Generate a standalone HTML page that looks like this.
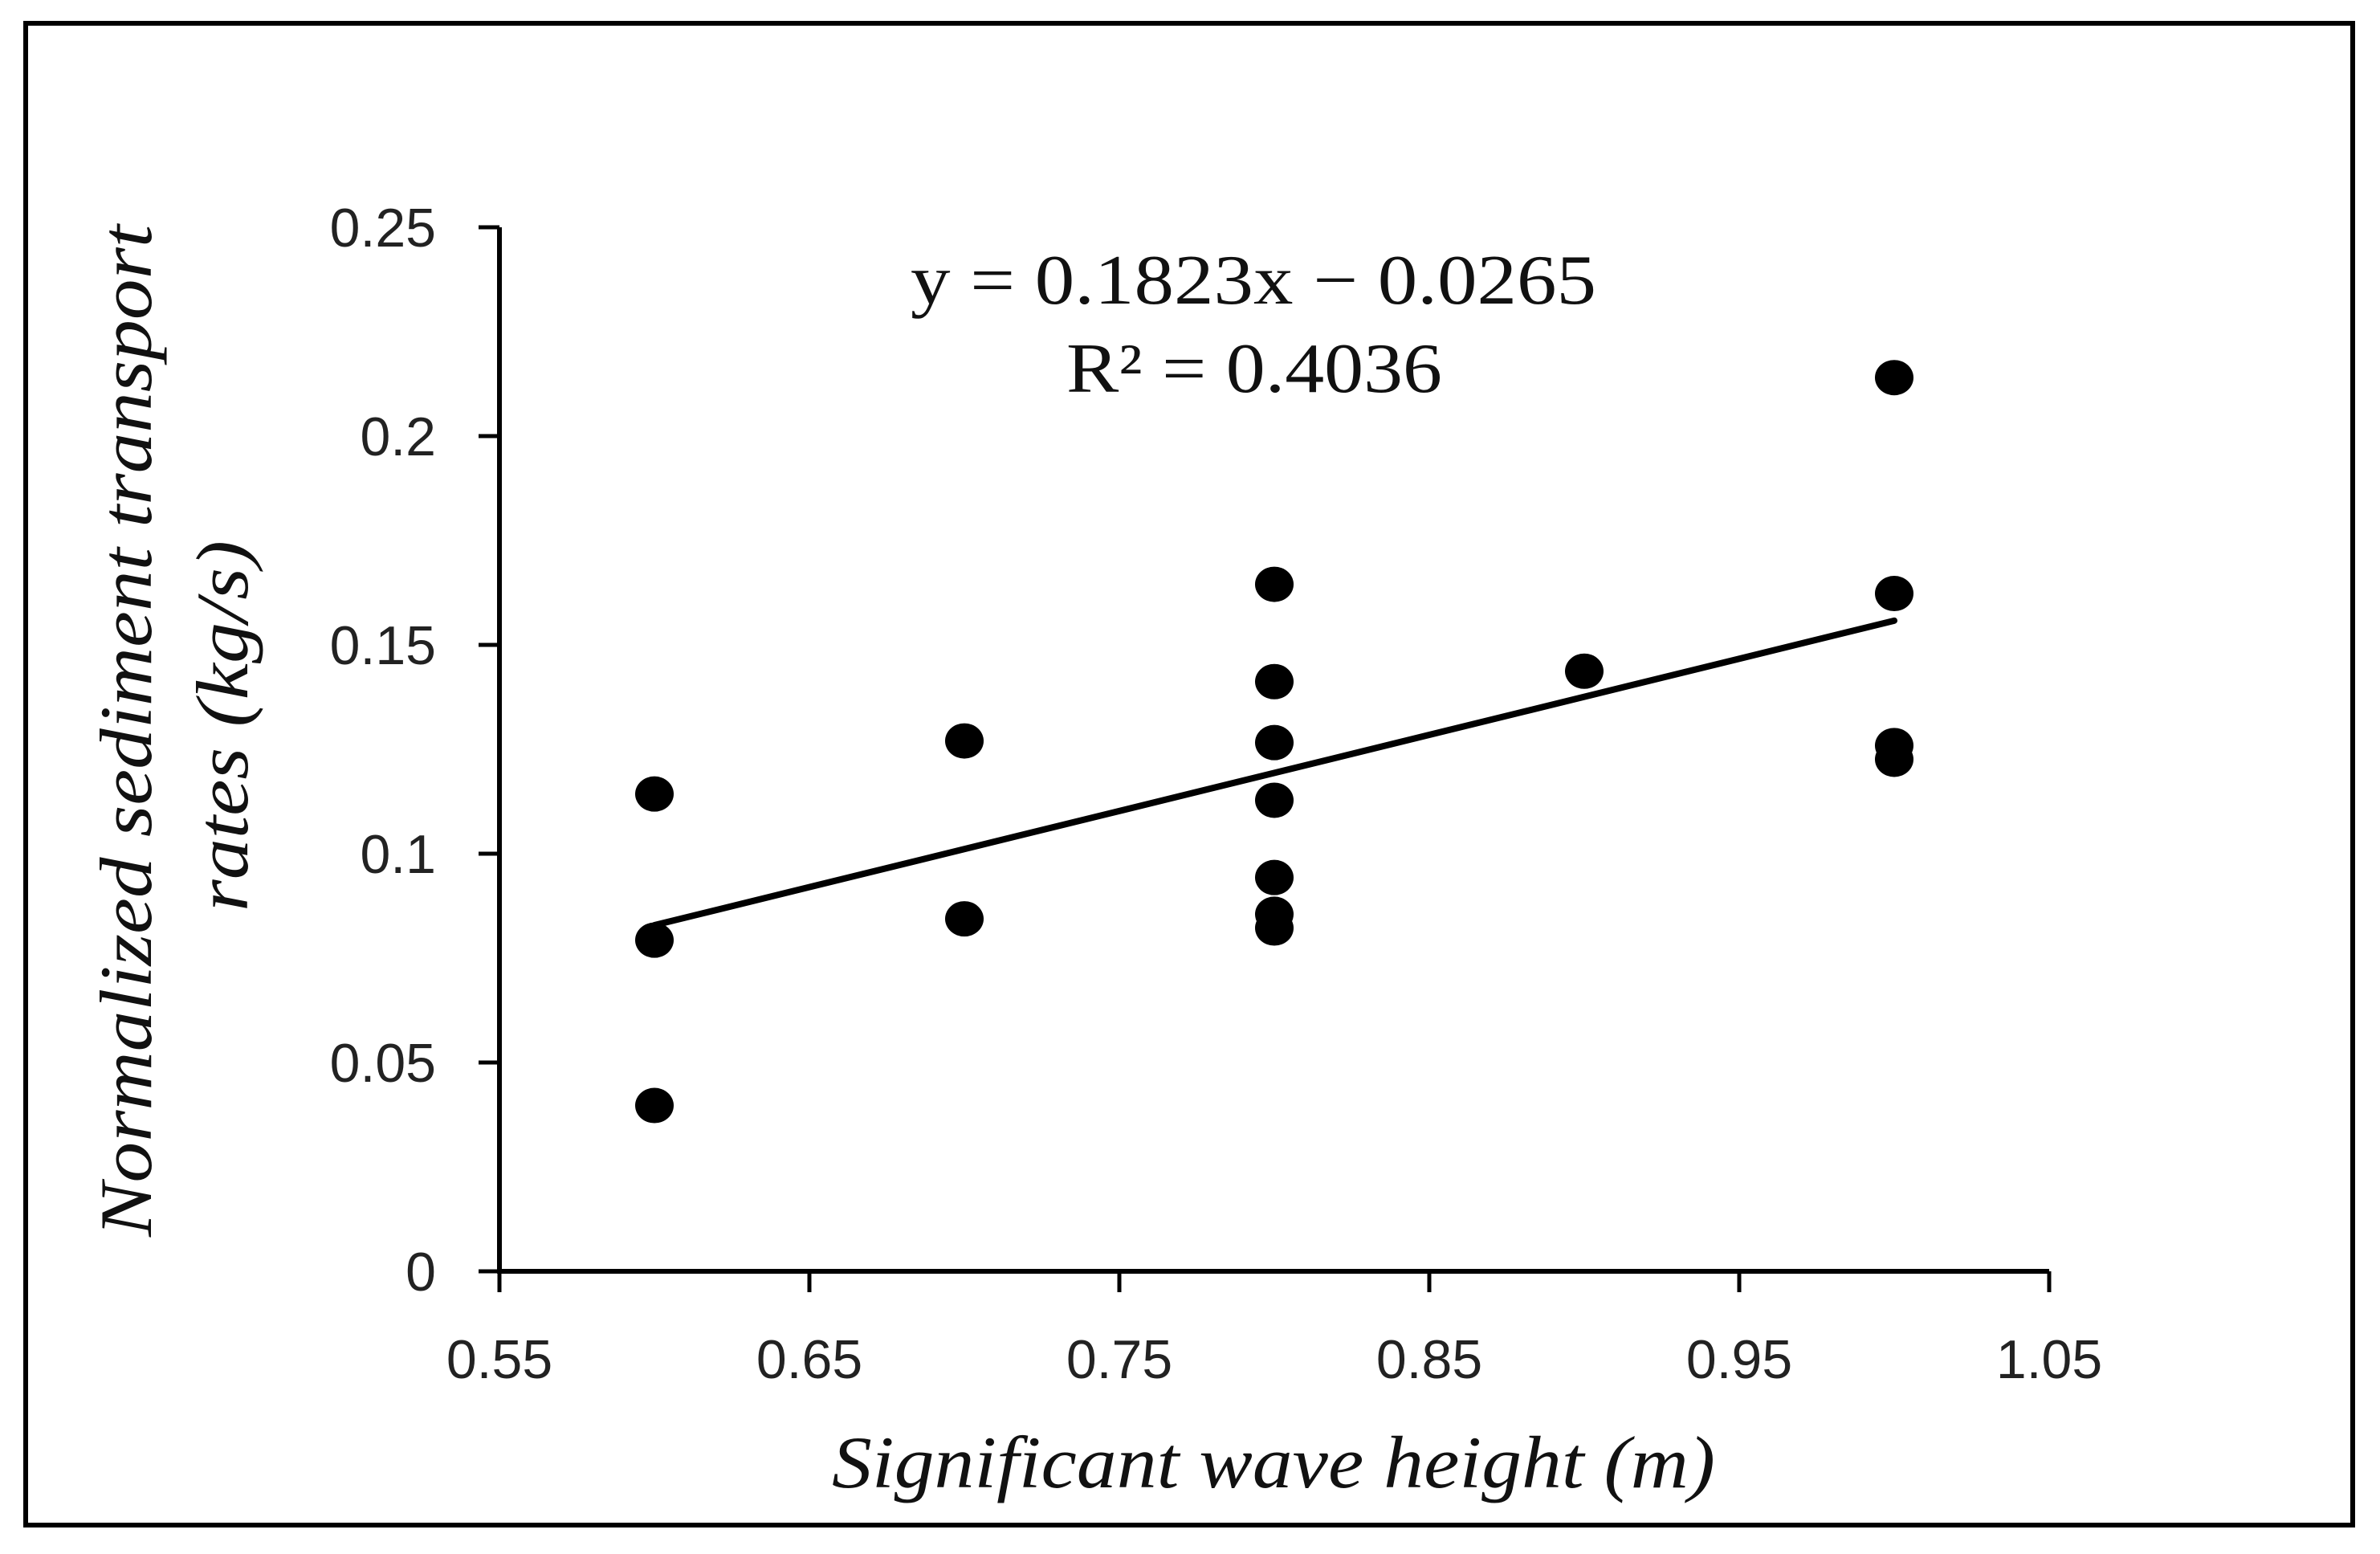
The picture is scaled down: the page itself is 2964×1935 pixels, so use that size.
<!DOCTYPE html>
<html><head><meta charset="utf-8"><style>
html,body{margin:0;padding:0;background:#fff}
svg{display:block}
.tick{font-family:"Liberation Sans Narrow","Liberation Sans",sans-serif;font-size:68px;fill:#222}
.ser{font-family:"Liberation Serif",serif;fill:#111}
</style></head><body>
<svg id="chart" width="2964" height="1935" viewBox="0 0 2964 1935" xmlns="http://www.w3.org/2000/svg">
<rect x="32" y="29" width="2898" height="1870" fill="none" stroke="#000" stroke-width="6"/>
<g id="axes"></g>
<g id="marks"></g>
<text class="ser" x="1561" y="378" font-size="88" text-anchor="middle" textLength="854" lengthAdjust="spacingAndGlyphs">y = 0.1823x − 0.0265</text>
<text class="ser" x="1562" y="488" font-size="88" text-anchor="middle" textLength="468" lengthAdjust="spacingAndGlyphs">R² = 0.4036</text>
<text class="ser" x="1586" y="1852" font-size="92" font-style="italic" text-anchor="middle" textLength="1100" lengthAdjust="spacingAndGlyphs">Significant wave height (m)</text>
<text class="ser" transform="translate(188,910) rotate(-90)" font-size="92" font-style="italic" text-anchor="middle" textLength="1260" lengthAdjust="spacingAndGlyphs">Normalized sediment transport</text>
<text class="ser" transform="translate(308,904) rotate(-90)" font-size="92" font-style="italic" text-anchor="middle" textLength="462" lengthAdjust="spacingAndGlyphs">rates (kg/s)</text>
</svg>
<script>
const xTicks = [0.55, 0.65, 0.75, 0.85, 0.95, 1.05];
const xTickLabels = ["0.55", "0.65", "0.75", "0.85", "0.95", "1.05"];
const yTicks = [0, 0.05, 0.1, 0.15, 0.2, 0.25];
const yTickLabels = ["0", "0.05", "0.1", "0.15", "0.2", "0.25"];
const xValues = [0.6, 0.6, 0.6, 0.7, 0.7, 0.8, 0.8, 0.8, 0.8, 0.8, 0.8, 0.8, 0.9, 1.0, 1.0, 1.0, 1.0];
const yValues = [0.1143, 0.0793, 0.0397, 0.127, 0.0844, 0.1645, 0.1412, 0.1266, 0.1128, 0.0943, 0.0855, 0.0822, 0.1437, 0.214, 0.1623, 0.1259, 0.1226];
const trendSlope = [0.1823];
const trendIntercept = [-0.0265];

const NS = "http://www.w3.org/2000/svg";
const X0 = 622, Y0 = 1583;
function xs(v){ return X0 + (v - 0.55) * 3860; }
function ys(v){ return Y0 - v * 5200; }
function mk(tag, attrs, parent){
  const el = document.createElementNS(NS, tag);
  for (const k in attrs) el.setAttribute(k, attrs[k]);
  parent.appendChild(el);
  return el;
}
const axes = document.getElementById("axes");
const marks = document.getElementById("marks");

const yAxis = mk("line", {x1:X0, y1:ys(0.25), x2:X0, y2:Y0+2, stroke:"#000", "stroke-width":6}, axes);


const xAxis = mk("line", {x1:X0-3, y1:Y0, x2:xs(1.05), y2:Y0, stroke:"#000", "stroke-width":6}, axes);



xTicks.forEach((t, i) => {
  const tk = mk("line", {x1:xs(t), y1:Y0, x2:xs(t), y2:Y0+26, stroke:"#000", "stroke-width":5}, axes);
  
  
  const lb = mk("text", {x:xs(t), y:1716, "text-anchor":"middle", class:"tick"}, axes);
  lb.textContent = xTickLabels[i];
  
  
});
yTicks.forEach((t, i) => {
  const tk = mk("line", {x1:X0-26, y1:ys(t), x2:X0, y2:ys(t), stroke:"#000", "stroke-width":5}, axes);
  
  
  const lb = mk("text", {x:543, y:ys(t)+24, "text-anchor":"end", class:"tick"}, axes);
  lb.textContent = yTickLabels[i];
  
  
});

const tl = mk("line", {x1:xs(0.6), y1:ys(trendSlope[0]*0.6+trendIntercept[0]), x2:xs(1.0), y2:ys(trendSlope[0]*1.0+trendIntercept[0]), stroke:"#000", "stroke-width":8, "stroke-linecap":"round"}, marks);



xValues.forEach((x, i) => {
  const c = mk("ellipse", {cx:xs(x), cy:ys(yValues[i]), rx:24, ry:22, fill:"#000"}, marks);
  
  
});
</script>
</body></html>
